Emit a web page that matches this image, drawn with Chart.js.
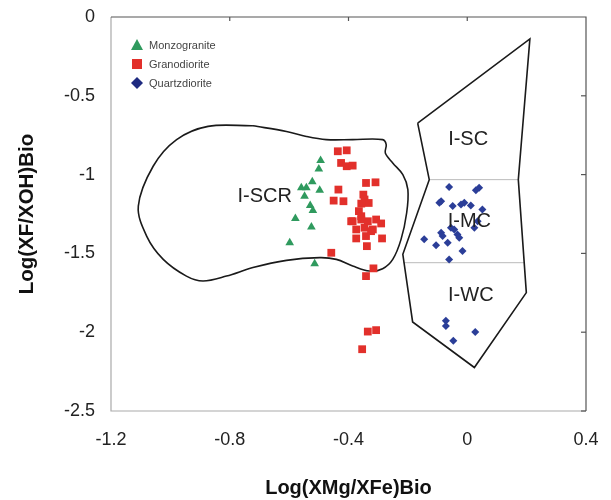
<!DOCTYPE html>
<html>
<head>
<meta charset="utf-8">
<script src="https://cdn.jsdelivr.net/npm/chart.js@4.4.1/dist/chart.umd.min.js"></script>
<style>
  html, body { margin: 0; padding: 0; background: #fff; }
  #wrap { width: 611px; height: 500px; }
</style>
</head>
<body>
<div id="wrap"><canvas id="bioChart" width="611" height="500"></canvas></div>
<script>
// Tick labels
const xTicks = [-1.2, -0.8, -0.4, 0, 0.4];
const yTicks = [0, -0.5, -1, -1.5, -2, -2.5];

// Monzogranite (triangles)
const monzoX = [-0.494, -0.50, -0.522, -0.559, -0.542, -0.497, -0.548, -0.529, -0.52, -0.579, -0.525, -0.598, -0.514];
const monzoY = [-0.91, -0.964, -1.046, -1.084, -1.084, -1.10, -1.137, -1.196, -1.228, -1.278, -1.333, -1.432, -1.565];

// Granodiorite (squares)
const granoX = [-0.436, -0.406, -0.425, -0.406, -0.386, -0.341, -0.309, -0.434, -0.45, -0.417, -0.35, -0.346, -0.332, -0.357, -0.365,
  -0.386, -0.357, -0.335, -0.307, -0.29, -0.346, -0.318, -0.374, -0.374, -0.341, -0.287, -0.338, -0.458, -0.316, -0.341,
  -0.335, -0.307, -0.354, -0.391, -0.357, -0.324];
const granoY = [-0.852, -0.846, -0.926, -0.947, -0.943, -1.053, -1.049, -1.095, -1.165, -1.169, -1.127, -1.158, -1.18, -1.184, -1.232,
  -1.296, -1.285, -1.296, -1.285, -1.31, -1.337, -1.348, -1.348, -1.405, -1.39, -1.405, -1.454, -1.496, -1.595, -1.644,
  -1.996, -1.987, -2.108, -1.296, -1.264, -1.359];

// Quartzdiorite (diamonds)
const quartzX = [-0.061, 0.029, 0.04, -0.094, -0.088, -0.049, -0.021, -0.01, 0.012, 0.051, 0.035, 0.024, -0.055, -0.044,
  -0.088, -0.083, -0.033, -0.027, -0.145, -0.105, -0.066, -0.016, -0.061, -0.072, -0.072, 0.027, -0.047];
const quartzY = [-1.078, -1.099, -1.084, -1.179, -1.169, -1.2, -1.19, -1.179, -1.196, -1.222, -1.296, -1.337, -1.337, -1.348,
  -1.369, -1.39, -1.38, -1.401, -1.411, -1.449, -1.432, -1.485, -1.538, -1.96, -1.928, -1.998, -2.055];

// I-SCR field outline
const scrX = [-0.722, -0.609, -0.542, -0.475, -0.386, -0.285, -0.273, -0.276, -0.251, -0.217, -0.2, -0.204, -0.223, -0.251,
  -0.285, -0.329, -0.386, -0.441, -0.497, -0.609, -0.722, -0.811, -0.89, -0.946, -1.024, -1.08, -1.108, -1.058, -0.979, -0.873, -0.722];
const scrY = [-0.69, -0.726, -0.758, -0.778, -0.778, -0.778, -0.81, -0.863, -0.926, -1.0, -1.095, -1.242, -1.411, -1.538,
  -1.597, -1.612, -1.58, -1.538, -1.527, -1.544, -1.59, -1.644, -1.675, -1.644, -1.538, -1.39, -1.2, -0.947, -0.778, -0.694, -0.69];

// I-SC / I-MC / I-WC field outline
const cFieldX = [-0.167, -0.128, -0.217, -0.184, 0.024, 0.199, 0.172, 0.211, -0.167];
const cFieldY = [-0.673, -1.032, -1.506, -1.935, -2.224, -1.749, -1.032, -0.139, -0.673];

// dividers inside the field
const div1X = [-0.128, 0.172];
const div1Y = [-1.032, -1.032];
const div2X = [-0.215, 0.192];
const div2Y = [-1.559, -1.559];

// field names
const regionNames = ["I-SCR", "I-SC", "I-MC", "I-WC"];
const regionX = [-0.682, 0.003, 0.007, 0.012];
const regionY = [-1.137, -0.778, -1.296, -1.766];

const seriesNames = ["Monzogranite", "Granodiorite", "Quartzdiorite"];

const toPts = (xs, ys) => xs.map((x, i) => ({ x: x, y: ys[i] }));

// fixed axis boxes, no label overhang padding
const fixBox = (size) => (s) => {
  if (s.isHorizontal()) s.height = size; else s.width = size;
  s.paddingLeft = 0; s.paddingRight = 0; s.paddingTop = 0; s.paddingBottom = 0;
};

// draws frame, inward ticks, field names and legend
const decorPlugin = {
  id: "decor",
  afterDatasetsDraw(chart) {
    const { ctx, chartArea: a, scales: { x, y } } = chart;
    ctx.save();
    // left + bottom light grey
    ctx.strokeStyle = "#aaaaaa";
    ctx.lineWidth = 1.2;
    ctx.beginPath();
    ctx.moveTo(a.left, a.top);
    ctx.lineTo(a.left, a.bottom);
    ctx.lineTo(a.right, a.bottom);
    ctx.stroke();
    // top + right darker
    ctx.strokeStyle = "#555555";
    ctx.beginPath();
    ctx.moveTo(a.left, a.top);
    ctx.lineTo(a.right, a.top);
    ctx.lineTo(a.right, a.bottom);
    ctx.stroke();
    // ticks
    xTicks.slice(1, -1).forEach(v => {
      const px = x.getPixelForValue(v);
      ctx.beginPath();
      ctx.moveTo(px, a.top);
      ctx.lineTo(px, a.top + 4);
      ctx.stroke();
    });
    yTicks.slice(1).forEach(v => {
      const py = y.getPixelForValue(v);
      ctx.beginPath();
      ctx.moveTo(a.right, py);
      ctx.lineTo(a.right - 5, py);
      ctx.stroke();
    });

    // field names
    ctx.fillStyle = "#222";
    ctx.font = "20px 'Liberation Sans', Arial, sans-serif";
    ctx.textAlign = "center";
    ctx.textBaseline = "middle";
    regionNames.forEach((n, i) => {
      ctx.fillText(n, x.getPixelForValue(regionX[i]), y.getPixelForValue(regionY[i]));
    });

    // legend
    const lx = a.left + 26, ly = a.top + 28, gap = 19;
    ctx.font = "11px 'Liberation Sans', Arial, sans-serif";
    ctx.textAlign = "left";
    seriesNames.forEach((n, i) => {
      const cy = ly + i * gap;
      const ds = chart.data.datasets[i];
      ctx.fillStyle = ds.backgroundColor;
      ctx.beginPath();
      if (i === 0) {
        ctx.moveTo(lx, cy - 6);
        ctx.lineTo(lx + 6, cy + 5);
        ctx.lineTo(lx - 6, cy + 5);
      } else if (i === 1) {
        ctx.rect(lx - 5, cy - 5, 10, 10);
      } else {
        ctx.fillStyle = "#1e2a80";
        ctx.moveTo(lx, cy - 6);
        ctx.lineTo(lx + 6, cy);
        ctx.lineTo(lx, cy + 6);
        ctx.lineTo(lx - 6, cy);
      }
      ctx.closePath();
      ctx.fill();
      ctx.fillStyle = "#444";
      ctx.fillText(n, lx + 12, cy + 1);
    });
    ctx.restore();
  }
};

const chart = new Chart(document.getElementById("bioChart"), {
  type: "scatter",
  data: {
    datasets: [
      {
        label: seriesNames[0],
        data: toPts(monzoX, monzoY),
        pointStyle: "triangle",
        pointRadius: 5,
        backgroundColor: "#2f9a5e",
        borderWidth: 0,
      },
      {
        label: seriesNames[1],
        data: toPts(granoX, granoY),
        pointStyle: "rect",
        pointRadius: 5.5,
        backgroundColor: "#e2302b",
        borderWidth: 0,
      },
      {
        label: seriesNames[2],
        data: toPts(quartzX, quartzY),
        pointStyle: "rectRot",
        pointRadius: 4,
        backgroundColor: "#2b3e98",
        borderWidth: 0,
      },
      {
        label: "I-SCR",
        data: toPts(scrX, scrY),
        showLine: true,
        tension: 0.35,
        pointRadius: 0,
        borderColor: "#1a1a1a",
        borderWidth: 1.6,
        fill: false,
      },
      {
        label: "C field",
        data: toPts(cFieldX, cFieldY),
        showLine: true,
        tension: 0,
        pointRadius: 0,
        borderColor: "#1a1a1a",
        borderWidth: 1.6,
        fill: false,
      },
      {
        label: "div1",
        data: toPts(div1X, div1Y),
        showLine: true,
        pointRadius: 0,
        borderColor: "#bbbbbb",
        borderWidth: 1,
      },
      {
        label: "div2",
        data: toPts(div2X, div2Y),
        showLine: true,
        pointRadius: 0,
        borderColor: "#bbbbbb",
        borderWidth: 1,
      },
    ],
  },
  options: {
    responsive: false,
    animation: false,
    layout: { padding: { top: 17, right: 25, left: 0, bottom: 0 } },
    plugins: {
      legend: { display: false },
      tooltip: { enabled: false },
    },
    scales: {
      x: {
        type: "linear",
        min: -1.2,
        max: 0.4,
        afterBuildTicks: (s) => { s.ticks = xTicks.map(v => ({ value: v })); },
        afterFit: fixBox(89),
        grid: { display: false, drawTicks: false },
        border: { display: false },
        ticks: {
          padding: 18,
          color: "#222",
          font: { size: 18, family: "'Liberation Sans', Arial, sans-serif" },
          maxRotation: 0,
          callback: (v) => String(v),
        },
        title: {
          display: true,
          text: "Log(XMg/XFe)Bio",
          color: "#111",
          font: { size: 20, weight: "bold", family: "'Liberation Sans', Arial, sans-serif" },
          padding: { top: 0, bottom: 0 },
        },
      },
      y: {
        type: "linear",
        min: -2.5,
        max: 0,
        afterBuildTicks: (s) => { s.ticks = yTicks.map(v => ({ value: v })); },
        afterFit: fixBox(111),
        grid: { display: false, drawTicks: false },
        border: { display: false },
        ticks: {
          padding: 16,
          color: "#222",
          font: { size: 18, family: "'Liberation Sans', Arial, sans-serif" },
          callback: (v) => String(v),
        },
        title: {
          display: true,
          text: "Log(XF/XOH)Bio",
          color: "#111",
          font: { size: 20.5, weight: "bold", family: "'Liberation Sans', Arial, sans-serif" },
          padding: { top: 15, bottom: 0 },
        },
      },
    },
  },
  plugins: [decorPlugin],
});
</script>
</body>
</html>
